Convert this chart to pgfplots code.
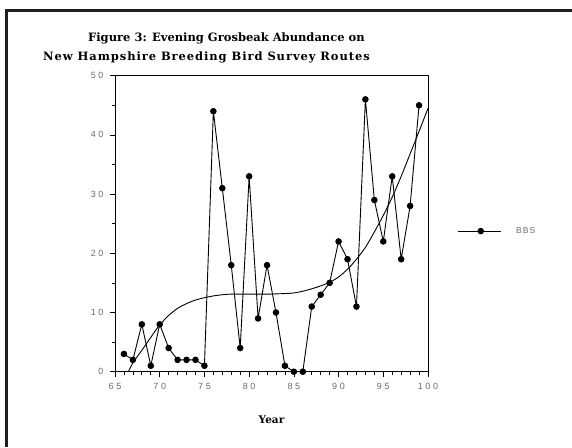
\documentclass[border=0pt]{standalone}
\usepackage{pgfplots}
\pgfplotsset{compat=1.18}
\usepackage{fontspec}
\setmainfont{DejaVu Serif}
\newfontfamily\tickfont[LetterSpace=30]{Liberation Sans}
\newfontfamily\legfont[LetterSpace=12]{Liberation Sans}
\definecolor{tickgray}{gray}{0.42}
\begin{document}
\begin{tikzpicture}[x=1pt,y=1pt]
\useasboundingbox (0,0) rectangle (572,447);
\draw[line width=3pt,black!88] (5,436) -- (572,436);
\draw[line width=3pt,black!88] (6.5,437.5) -- (6.5,0);
\node[anchor=base west,inner sep=0pt,font=\bfseries\fontsize{11.5}{13}\selectfont] at (88,405) {Figure 3: Evening Grosbeak Abundance on};
\node[anchor=base west,inner sep=0pt,font=\bfseries\fontsize{11.5}{13}\addfontfeature{LetterSpace=8}\selectfont] at (43,386) {New Hampshire Breeding Bird Survey Routes};
\begin{axis}[
  at={(115pt,75.3pt)}, anchor=south west,
  scale only axis, width=313pt, height=296pt,
  xmin=65, xmax=100, ymin=0, ymax=50,
  xtick={65,70,...,100}, minor x tick num=4,
  ytick={0,10,...,50}, minor y tick num=1,
  xtick pos=left, ytick pos=left,
  tick align=outside, major tick length=5pt, minor tick length=3pt,
  axis line style={line width=0.8pt},
  every tick/.style={black, line width=0.7pt},
  /pgf/number format/assume math mode=true,
  ticklabel style={font=\tickfont\fontsize{9}{10}\selectfont, text=tickgray},
  xticklabel style={yshift=-3pt},
  yticklabel style={xshift=-3pt},
  xlabel={Year},
  xlabel style={at={(axis description cs:0.5,-0.162)}, anchor=center, font=\bfseries\fontsize{10.5}{12}\selectfont},
  legend style={at={(1.093,0.475)}, anchor=west, draw=none, fill=none, inner sep=0pt,
    font=\legfont\fontsize{8.5}{10}\selectfont, text=tickgray,
    /tikz/every odd column/.append style={column sep=13pt}},
  legend cell align=left,
  clip=false,
]
\addplot[black, line width=0.9pt, mark=*, mark size=2.8pt,
  legend image code/.code={\draw[black,line width=0.9pt] (0pt,0pt) -- (43pt,0pt); \fill[black] (23pt,0pt) circle (2.8pt);}]
  coordinates {
(66,3) (67,2) (68,8) (69,1) (70,8) (71,4) (72,2) (73,2) (74,2) (75,1)
(76,44) (77,31) (78,18) (79,4) (80,33) (81,9) (82,18) (83,10) (84,1) (85,0)
(86,0) (87,11) (88,13) (89,15) (90,22) (91,19) (92,11) (93,46) (94,29) (95,22)
(96,33) (97,19) (98,28) (99,45)
};
\addlegendentry{BBS}
\addplot[black, line width=0.9pt, smooth, forget plot] coordinates {
(66.5,0) (67,1.5) (68,3.6) (69,5.8) (70,7.9) (71,9.5) (72,10.7) (73,11.5)
(74,12.1) (75,12.5) (76,12.8) (77,13.0) (78,13.1) (80,13.1) (82,13.1) (84,13.2)
(85,13.3) (86,13.6) (87,14.0) (88,14.5) (89,15.1) (90,16.0) (91,17.3) (92,19.0)
(93,21.0) (94,23.6) (95,26.4) (96,29.5) (97,33.0) (98,36.8) (99,40.6) (100,44.5)
};
\end{axis}
\end{tikzpicture}
\end{document}
